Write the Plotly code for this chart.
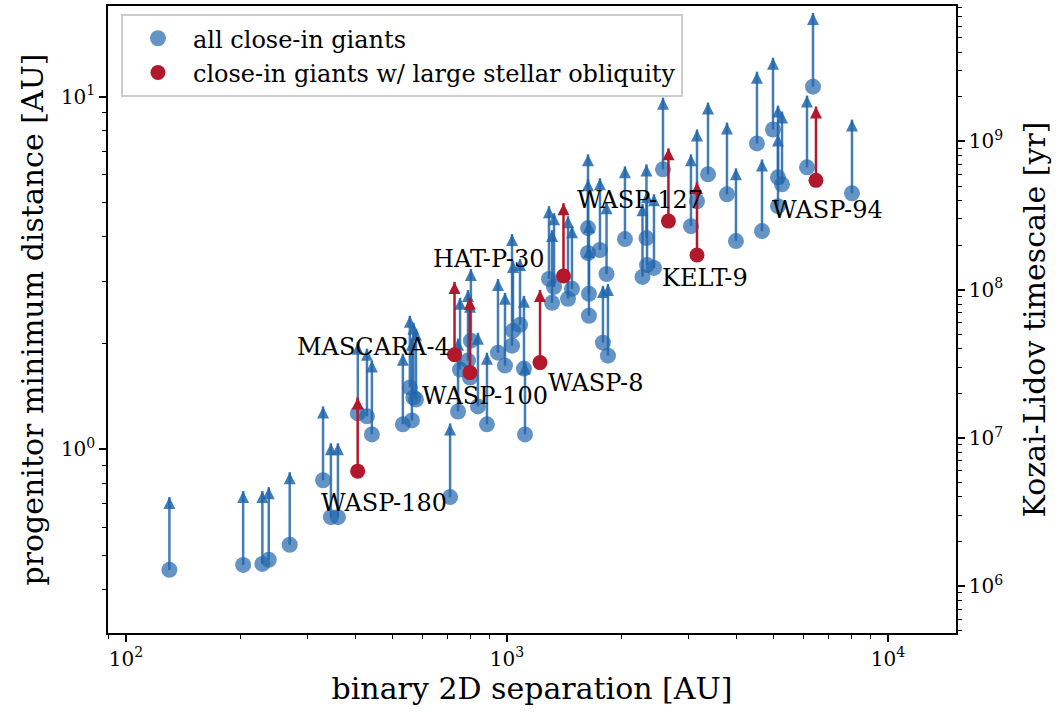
import numpy as np
import plotly.graph_objects as go

# Close-in giants: binary 2D separation [AU], progenitor minimum distance [AU]
# and the upper end of each lower-limit arrow [AU]
sep_all = [130, 203, 228, 237, 269, 329, 345, 360, 406, 429, 442, 533, 556, 563,
           568, 577, 709, 744, 753, 790, 800, 804, 839, 886, 947, 988, 1031, 1037,
           1082, 1108, 1115, 1289, 1329, 1313, 1446, 1481, 1632, 1632, 1641, 1641,
           1754, 1825, 1786, 1841, 2040, 2268, 2323, 2331, 2431, 2567, 3040, 3153,
           3370, 3779, 3990, 4530, 4670, 4991, 5144, 5270, 5144, 6130, 6356, 8044,
           11080]
dmin_all = [0.455, 0.470, 0.473, 0.486, 0.536, 0.817, 0.642, 0.642, 1.264, 1.240,
            1.102, 1.177, 1.497, 1.207, 1.403, 1.384, 0.732, 1.280, 1.683, 1.784,
            1.597, 2.032, 1.323, 1.177, 1.879, 1.727, 1.967, 2.169, 2.254, 1.694,
            1.102, 3.041, 2.887, 2.602, 2.671, 2.850, 4.238, 3.602, 2.759, 2.391,
            3.673, 3.141, 2.006, 1.843, 3.945, 3.081, 3.971, 3.331, 3.267, 6.219,
            4.293, 5.051, 6.020, 5.286, 3.894, 7.366, 4.156, 8.070, 5.904, 5.641,
            4.890, 6.302, 10.67, 5.321, 19.3]
dtip_all = [0.732, 0.761, 0.761, 0.781, 0.861, 1.323, 1.040, 1.040, 2.006, 1.929,
            1.784, 1.867, 2.391, 2.059, 2.284, 2.197, 1.184, 2.059, 2.688, 2.831,
            2.636, 3.246, 2.141, 1.879, 3.041, 2.777, 4.075, 3.420, 3.464, 2.723,
            1.761, 4.890, 4.672, 4.183, 4.581, 4.293, 6.860, 5.830, 4.436, 3.770,
            5.868, 5.019, 2.906, 2.944, 6.342, 4.954, 6.425, 5.390, 5.286, 9.935,
            6.860, 8.070, 9.618, 8.445, 6.261, 11.77, 6.637, 12.89, 9.432, 9.072,
            7.812, 10.07, 17.27, 8.610, 31.0]

# Systems with a large stellar obliquity
names_obl = ["WASP-180", "MASCARA-4", "WASP-100", "WASP-8", "HAT-P-30",
             "WASP-127", "KELT-9", "WASP-94"]
sep_obl = [405.6, 728.3, 799.5, 1221, 1407, 2653, 3153, 6471]
dmin_obl = [0.867, 1.855, 1.650, 1.761, 3.101, 4.436, 3.555, 5.789]
dtip_obl = [1.403, 2.983, 2.688, 2.831, 4.986, 7.133, 5.717, 9.372]

# Right-hand axis: Kozai-Lidov timescale [yr]
kl_ticks = [1e6, 1e7, 1e8, 1e9]

# label offsets (pixels) for each named system: (xshift, yshift)
label_shift = [(26, -32), (-81, 8), (15, -23), (55, -20), (-75, 17),
               (-28, 21), (8, -23), (12, -30)]

BLUE_PT = "rgba(33,102,172,0.70)"
BLUE_AR = "rgba(33,102,172,0.85)"
RED = "#b2182b"
FONT = "DejaVu Serif"


def stems(xs, lo, hi):
    sx, sy = [], []
    for x, a, b in zip(xs, lo, hi):
        sx += [x, x, None]
        sy += [a, b, None]
    return sx, sy


fig = go.Figure()

fig.add_trace(go.Scatter(
    x=sep_all, y=dmin_all, mode="markers", name="all close-in giants",
    marker=dict(size=16, color=BLUE_PT, line=dict(width=0)),
    hoverinfo="skip"))
sx, sy = stems(sep_all, dmin_all, dtip_all)
fig.add_trace(go.Scatter(x=sx, y=sy, mode="lines", showlegend=False,
                         line=dict(color=BLUE_AR, width=2.5), hoverinfo="skip"))
fig.add_trace(go.Scatter(x=sep_all, y=dtip_all, mode="markers", showlegend=False,
                         marker=dict(symbol="arrow-up", size=12, color=BLUE_AR,
                                     line=dict(width=0)),
                         hoverinfo="skip"))

sx, sy = stems(sep_obl, dmin_obl, dtip_obl)
fig.add_trace(go.Scatter(x=sx, y=sy, mode="lines", showlegend=False,
                         line=dict(color=RED, width=2.5), hoverinfo="skip"))
fig.add_trace(go.Scatter(x=sep_obl, y=dtip_obl, mode="markers", showlegend=False,
                         marker=dict(symbol="arrow-up", size=12, color=RED,
                                     line=dict(width=0)),
                         hoverinfo="skip"))
fig.add_trace(go.Scatter(
    x=sep_obl, y=dmin_obl, mode="markers",
    name="close-in giants w/ large stellar obliquity",
    marker=dict(size=15, color=RED, line=dict(width=0)), hoverinfo="skip"))

# invisible trace that carries the Kozai-Lidov axis
fig.add_trace(go.Scatter(x=[1000, 1000], y=[kl_ticks[0], kl_ticks[-1]], yaxis="y2",
                         mode="markers", marker=dict(opacity=0), showlegend=False,
                         hoverinfo="skip"))

for name, x, y, (dx, dy) in zip(names_obl, sep_obl, dmin_obl, label_shift):
    fig.add_annotation(x=np.log10(x), y=np.log10(y), xref="x", yref="y",
                       text=name, showarrow=False, xshift=dx, yshift=dy,
                       font=dict(family=FONT, size=24, color="black"))


def minor_vals(lo, hi):
    return [k * 10.0 ** n for n in range(lo, hi) for k in range(2, 10)]


axis_common = dict(type="log", showgrid=False, zeroline=False, showline=True,
                   linecolor="black", linewidth=1.5, ticks="outside", ticklen=7,
                   tickwidth=1.5, tickcolor="black",
                   tickfont=dict(family=FONT, size=20, color="black"),
                   title_font=dict(family=FONT, size=30, color="black"))

fig.update_layout(
    width=1059, height=715,
    margin=dict(l=108, r=103, t=4, b=82),
    plot_bgcolor="white", paper_bgcolor="white",
    font=dict(family=FONT, color="black"),
    xaxis=dict(axis_common, range=[1.9528, 4.1785], mirror=True,
               tickvals=[1e2, 1e3, 1e4],
               ticktext=["10<sup>2</sup>", "10<sup>3</sup>", "10<sup>4</sup>"],
               minor=dict(ticks="outside", ticklen=4, tickwidth=1, tickcolor="black",
                          tickvals=minor_vals(1, 5)),
               title=dict(text="binary 2D separation [AU]", standoff=8)),
    yaxis=dict(axis_common, range=[-0.521, 1.257],
               tickvals=[1, 10], ticktext=["10<sup>0</sup>", "10<sup>1</sup>"],
               minor=dict(ticks="outside", ticklen=4, tickwidth=1, tickcolor="black",
                          tickvals=minor_vals(-1, 2)),
               title=dict(text="progenitor minimum distance [AU]", standoff=8)),
    yaxis2=dict(axis_common, range=[5.684, 9.914], overlaying="y", side="right",
                tickvals=kl_ticks,
                ticktext=["10<sup>6</sup>", "10<sup>7</sup>", "10<sup>8</sup>",
                          "10<sup>9</sup>"],
                minor=dict(ticks="outside", ticklen=4, tickwidth=1, tickcolor="black",
                           tickvals=minor_vals(5, 10)),
                title=dict(text="Kozai-Lidov timescale [yr]", standoff=22)),
    legend=dict(x=0.0153, y=0.987, xanchor="left", yanchor="top",
                bgcolor="rgba(255,255,255,0.85)", bordercolor="#cccccc",
                borderwidth=2, font=dict(family=FONT, size=24, color="black"),
                itemwidth=60),
    showlegend=True,
)

fig.write_html("out.html")
